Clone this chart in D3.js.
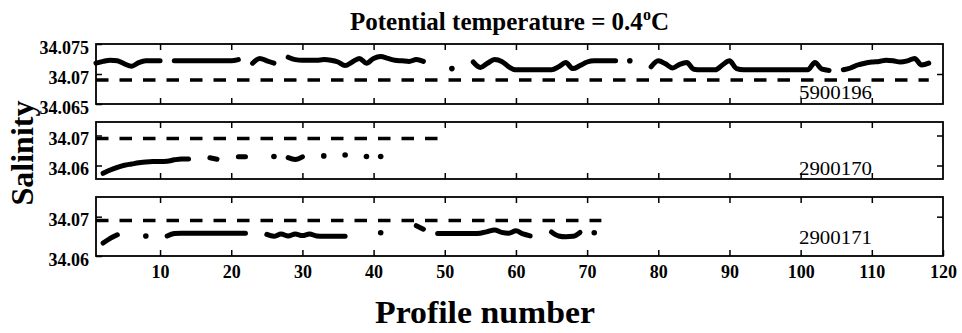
<!DOCTYPE html>
<html>
<head>
<meta charset="utf-8">
<script src="https://cdn.jsdelivr.net/npm/d3@7"></script>
<style>
  body { margin: 0; background: #fff; }
  svg text { font-family: "Liberation Serif", "Times New Roman", serif; fill: #000; }
</style>
</head>
<body>
<svg id="chart" width="962" height="333"></svg>
<script>
// ---- data -------------------------------------------------------------
// Profile axis ticks
const profileTicks = [10, 20, 30, 40, 50, 60, 70, 80, 90, 100, 110, 120];

// Reference salinity (dashed line) and the profile range it spans per float
const refSalinity = 34.069;

// Float 5900196
const f5900196Profiles = [
  1, 2, 3, 4, 5, 6, 7, 8, 9, 10,
  12, 13, 14, 15, 16, 17, 18, 19, 20, 21,
  23, 24, 25, 26,
  28, 29, 30, 31, 32, 33, 34, 35, 36, 37, 38, 39, 40, 41, 42, 43, 44, 45, 46, 47,
  51,
  54, 55, 56, 57, 58, 59, 60, 61, 62, 63, 64, 65, 66, 67, 68, 69, 70, 71, 72, 73, 74,
  76,
  79, 80, 81, 82, 83, 84, 85, 86, 87, 88, 89, 90, 91, 92, 93, 94, 95, 96, 97, 98, 99, 100, 101, 102, 103, 104,
  106, 107, 108, 109, 110, 111, 112, 113, 114, 115, 116, 117, 118
];
const f5900196Salinity = [
  34.0718, 34.0721, 34.0723, 34.0722, 34.0717, 34.0713, 34.0719, 34.0722, 34.0722, 34.0722,
  34.0722, 34.0722, 34.0722, 34.0722, 34.0722, 34.0722, 34.0722, 34.0722, 34.0722, 34.0724,
  34.0718, 34.0726, 34.0722, 34.0718,
  34.0728, 34.0724, 34.0723, 34.0723, 34.0723, 34.0724, 34.0723, 34.0720, 34.0714, 34.0720,
  34.0726, 34.0718, 34.0726, 34.0729, 34.0726, 34.0723, 34.0722, 34.0721, 34.0724, 34.0721,
  34.0709,
  34.0720, 34.0711, 34.0718, 34.0724, 34.0721, 34.0712, 34.0707, 34.0707, 34.0707, 34.0707,
  34.0707, 34.0707, 34.0712, 34.0719, 34.0709, 34.0714, 34.0720, 34.0722, 34.0722, 34.0722, 34.0722,
  34.0722,
  34.0712, 34.0722, 34.0717, 34.0710, 34.0716, 34.0719, 34.0708, 34.0707, 34.0707, 34.0707,
  34.0715, 34.0722, 34.0709, 34.0707, 34.0707, 34.0707, 34.0707, 34.0707, 34.0707, 34.0707,
  34.0707, 34.0707, 34.0707, 34.0719, 34.0708, 34.0706,
  34.0707, 34.0710, 34.0715, 34.0718, 34.0720, 34.0721, 34.0723, 34.0722, 34.0720, 34.0722,
  34.0726, 34.0715, 34.0718
];

// Float 2900170
const f2900170Profiles = [
  2, 3, 4, 5, 6, 7, 8, 9, 10, 11, 12, 13, 14,
  17, 18,
  21, 22,
  26,
  28, 29, 30,
  33, 36, 39, 41
];
const f2900170Salinity = [
  34.0574, 34.0585, 34.0594, 34.0601, 34.0605, 34.0609, 34.0612, 34.0613, 34.0613, 34.0614,
  34.0619, 34.0622, 34.0622,
  34.0626, 34.0621,
  34.0629, 34.0629,
  34.0630,
  34.0626, 34.0620, 34.0629,
  34.0632, 34.0635, 34.0630, 34.0630
];

// Float 2900171
const f2900171Profiles = [
  2, 3, 4,
  8,
  11, 12, 13, 14, 15, 16, 17, 18, 19, 20, 21, 22,
  25, 26, 27, 28, 29, 30, 31, 32, 33, 34, 35, 36,
  41,
  46, 47,
  49, 50, 51, 52, 53, 54, 55, 56, 57, 58, 59, 60, 61, 62,
  65, 66, 67, 68, 69,
  71
];
const f2900171Salinity = [
  34.0633, 34.0645, 34.0654,
  34.0651,
  34.0651, 34.0657, 34.0658, 34.0658, 34.0658, 34.0658, 34.0658, 34.0658, 34.0658, 34.0658,
  34.0658, 34.0658,
  34.0655, 34.0650, 34.0656, 34.0651, 34.0656, 34.0652, 34.0656, 34.0651, 34.0650, 34.0650,
  34.0650, 34.0650,
  34.0659,
  34.0677, 34.0668,
  34.0657, 34.0657, 34.0657, 34.0657, 34.0657, 34.0657, 34.0658, 34.0662, 34.0666, 34.0660,
  34.0658, 34.0664, 34.0656, 34.0651,
  34.0661, 34.0651, 34.0649, 34.0650, 34.0660,
  34.0659
];

// Salinity tick labels per panel
const yTicks5900196 = ["34.065", "34.07", "34.075"];
const yTicks2900170 = ["34.06", "34.07"];
const yTicks2900171 = ["34.06", "34.07"];

// ---- layout -------------------------------------------------------------
const svg = d3.select("#chart");
const plotLeft = 96, plotRight = 943;

const x = d3.scaleLinear().domain([1, 120]).range([plotLeft, plotRight]);

const panels = [
  { id: "5900196", profiles: f5900196Profiles, salinity: f5900196Salinity, refEnd: 118,
    domain: [34.065, 34.075], top: 44, bottom: 104, yTicks: yTicks5900196,
    innerTicks: [34.07], labelY: 99 },
  { id: "2900170", profiles: f2900170Profiles, salinity: f2900170Salinity, refEnd: 50,
    domain: [34.0555, 34.0745], top: 122, bottom: 179, yTicks: yTicks2900170,
    innerTicks: [34.06, 34.07], labelY: 175 },
  { id: "2900171", profiles: f2900171Profiles, salinity: f2900171Salinity, refEnd: 72,
    domain: [34.06, 34.075], top: 197, bottom: 256, yTicks: yTicks2900171,
    innerTicks: [34.07], labelY: 244 }
];

const tickFont = 18;

panels.forEach((p, i) => {
  const y = d3.scaleLinear().domain(p.domain).range([p.bottom, p.top]);
  const g = svg.append("g").attr("class", "panel-" + p.id);

  // reference salinity (dashed)
  g.append("path")
    .datum([1, p.refEnd])
    .attr("d", d3.line().x(d => x(d)).y(() => y(refSalinity)))
    .attr("fill", "none")
    .attr("stroke", "#000")
    .attr("stroke-width", 3.5)
    .attr("stroke-dasharray", "12.5,11");

  // split the float series into contiguous profile runs
  const pts = p.profiles.map((pr, k) => ({ p: pr, s: p.salinity[k] }));
  const runs = [];
  pts.forEach((d, k) => {
    if (k === 0 || d.p - pts[k - 1].p > 1) runs.push([]);
    runs[runs.length - 1].push(d);
  });

  const line = d3.line().x(d => x(d.p)).y(d => y(d.s)).curve(d3.curveMonotoneX);
  runs.filter(r => r.length > 1).forEach(r => {
    g.append("path")
      .datum(r)
      .attr("d", line)
      .attr("fill", "none")
      .attr("stroke", "#000")
      .attr("stroke-width", 5)
      .attr("stroke-linecap", "round")
      .attr("stroke-linejoin", "round");
  });
  g.selectAll("circle.single")
    .data(runs.filter(r => r.length === 1).map(r => r[0]))
    .join("circle")
    .attr("class", "single")
    .attr("cx", d => x(d.p))
    .attr("cy", d => y(d.s))
    .attr("r", 2.8)
    .attr("fill", "#000");

  // frame
  g.append("rect")
    .attr("x", plotLeft).attr("y", p.top)
    .attr("width", plotRight - plotLeft).attr("height", p.bottom - p.top)
    .attr("fill", "none").attr("stroke", "#000").attr("stroke-width", 1.8);

  // inward ticks on all four sides
  const isLast = i === panels.length - 1;
  const bottomAxis = d3.axisBottom(x)
    .tickValues(isLast ? profileTicks : profileTicks.slice(0, -1))
    .tickSize(-6).tickPadding(9);
  if (!isLast) bottomAxis.tickFormat("");
  const gb = g.append("g").attr("transform", `translate(0,${p.bottom})`).call(bottomAxis);
  gb.selectAll("text").attr("font-size", tickFont).attr("font-weight", "bold")
    .style("font-family", '"Liberation Serif", serif');

  g.append("g").attr("transform", `translate(0,${p.top})`)
    .call(d3.axisTop(x).tickValues(profileTicks.slice(0, -1)).tickSize(-6).tickFormat(""));

  const gl = g.append("g").attr("transform", `translate(${plotLeft},0)`)
    .call(d3.axisLeft(y).tickValues(p.yTicks.map(Number)).tickSize(-6).tickPadding(7)
      .tickFormat((d, k) => p.yTicks[k]));
  gl.selectAll("text").attr("font-size", tickFont).attr("font-weight", "bold")
    .attr("dy", "0.5em").style("font-family", '"Liberation Serif", serif');

  g.append("g").attr("transform", `translate(${plotRight},0)`)
    .call(d3.axisRight(y).tickValues(p.innerTicks).tickSize(-6).tickFormat(""));

  g.selectAll(".domain").remove();
  g.selectAll(".tick line").attr("stroke", "#000").attr("stroke-width", 1.5);

  // float id
  g.append("text")
    .attr("x", 799).attr("y", p.labelY)
    .attr("font-size", 18)
    .attr("textLength", 73).attr("lengthAdjust", "spacingAndGlyphs")
    .text(p.id);
});

// title
const title = svg.append("text")
  .attr("x", 350).attr("y", 30)
  .attr("font-size", 25).attr("font-weight", "bold");
title.append("tspan").text("Potential temperature = 0.4");
title.append("tspan").attr("font-size", 16).attr("dy", -10).text("o");
title.append("tspan").attr("dy", 10).text("C");

// axis titles
svg.append("text")
  .attr("x", 375).attr("y", 323)
  .attr("font-size", 31).attr("font-weight", "bold")
  .attr("textLength", 220).attr("lengthAdjust", "spacingAndGlyphs")
  .text("Profile number");

svg.append("text")
  .attr("transform", "translate(33,153) rotate(-90)")
  .attr("text-anchor", "middle")
  .attr("font-size", 32).attr("font-weight", "bold")
  .text("Salinity");
</script>
</body>
</html>
